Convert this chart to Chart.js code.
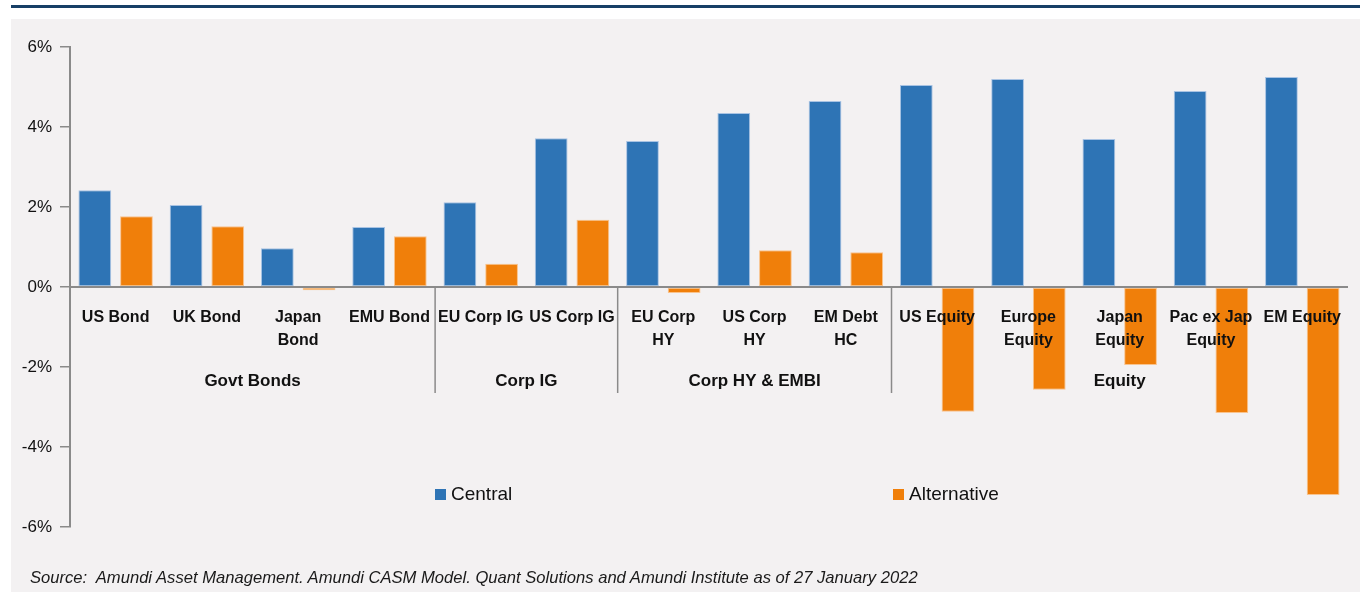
<!DOCTYPE html>
<html>
<head>
<meta charset="utf-8">
<script src="https://cdn.jsdelivr.net/npm/chart.js@4"></script>
<style>
	body { margin: 0; background: #ffffff; width: 1360px; height: 592px; overflow: hidden; position: relative; }
	#topline { position: absolute; left: 11px; top: 5px; width: 1349px; height: 3px; background: #173f66; }
	#panel { position: absolute; left: 11px; top: 19px; width: 1349px; height: 573px; background: #f3f1f2; }
	#wrap { position: absolute; left: 0; top: 0; width: 1360px; height: 592px; }
	#source { position: absolute; left: 30px; top: 568px; font: italic 16.6px "Liberation Sans Narrow", "Arial Narrow", "Liberation Sans", sans-serif; color: #1a1a1a; white-space: pre; }
</style>
</head>
<body>
<div id="topline"></div>
<div id="panel"></div>
<div id="wrap"><canvas id="returnsplot" width="1360" height="592"></canvas></div>
<div id="source">Source:  Amundi Asset Management. Amundi CASM Model. Quant Solutions and Amundi Institute as of 27 January 2022</div>
<script>
const categories = [
	"US Bond", "UK Bond", ["Japan", "Bond"], "EMU Bond",
	"EU Corp IG", "US Corp IG",
	["EU Corp", "HY"], ["US Corp", "HY"], ["EM Debt", "HC"],
	"US Equity", ["Europe", "Equity"], ["Japan", "Equity"], ["Pac ex Jap", "Equity"], "EM Equity"
];
const centralValues = [2.42, 2.05, 0.97, 1.5, 2.12, 3.72, 3.65, 4.35, 4.65, 5.05, 5.2, 3.7, 4.9, 5.25];
const alternativeValues = [1.77, 1.52, -0.08, 1.27, 0.58, 1.68, -0.15, 0.92, 0.87, -3.12, -2.57, -1.95, -3.15, -5.2];
// Groups of categories shown under the axis labels: [label, first index, last index]
const groups = [["Govt Bonds", 0, 3], ["Corp IG", 4, 5], ["Corp HY & EMBI", 6, 8], ["Equity", 9, 13]];
const yTicks = [-6, -4, -2, 0, 2, 4, 6];
const seriesLabels = ["Central", "Alternative"];

const blueColor = '#2e74b5';
const orangeColor = '#f07f0a';
const textColor = '#111111';
const axisColor = '#8a8a8a';
const narrowFont = '"Liberation Sans Narrow", "Arial Narrow", "Liberation Sans", sans-serif';

Chart.defaults.font.family = narrowFont;

// Group labels and separators under the category axis
const groupPlugin = {
	id: 'groupPlugin',
	afterDraw(chart) {
		const ctx = chart.ctx;
		const x = chart.scales.x, y = chart.scales.y;
		const zeroY = y.getPixelForValue(0);
		ctx.save();
		ctx.strokeStyle = axisColor;
		ctx.lineWidth = 1.5;
		ctx.fillStyle = textColor;
		ctx.font = 'bold 17px ' + narrowFont;
		ctx.textAlign = 'center';
		ctx.textBaseline = 'middle';
		groups.forEach(function (g, i) {
			let cx = (x.getPixelForValue(g[1]) + x.getPixelForValue(g[2])) / 2;
			ctx.fillText(g[0], cx, zeroY + 94);
			if (i > 0) {
				let sx = (x.getPixelForValue(g[1] - 1) + x.getPixelForValue(g[1])) / 2;
				ctx.beginPath();
				ctx.moveTo(sx, zeroY);
				ctx.lineTo(sx, zeroY + 106);
				ctx.stroke();
			}
		});
		ctx.restore();
	}
};

// Legend drawn inside the plot area
const legendPlugin = {
	id: 'legendPlugin',
	afterDraw(chart) {
		const ctx = chart.ctx;
		const positions = [435, 893];
		const ly = chart.scales.y.getPixelForValue(-5.2);
		ctx.save();
		ctx.font = '19px ' + narrowFont;
		ctx.textBaseline = 'middle';
		ctx.textAlign = 'left';
		chart.data.datasets.forEach(function (ds, i) {
			ctx.fillStyle = ds.backgroundColor;
			ctx.fillRect(positions[i], ly - 6, 11, 11);
			ctx.fillStyle = textColor;
			ctx.fillText(ds.label, positions[i] + 16, ly);
		});
		ctx.restore();
	}
};

var returnsplot = new Chart("returnsplot", {
	type: "bar",
	data: {
		labels: categories,
		datasets: [{
			label: seriesLabels[0],
			data: centralValues,
			backgroundColor: blueColor,
			borderColor: 'rgba(160,190,225,0.9)',
			borderWidth: 1,
			borderSkipped: false,
			categoryPercentage: 0.913,
			barPercentage: 0.786
		}, {
			label: seriesLabels[1],
			data: alternativeValues,
			backgroundColor: orangeColor,
			borderColor: 'rgba(250,190,130,0.9)',
			borderWidth: 1,
			borderSkipped: false,
			categoryPercentage: 0.913,
			barPercentage: 0.786
		}]
	},
	options: {
		responsive: false,
		animation: false,
		layout: {
			padding: { left: 0, right: 2, top: 47, bottom: 65 }
		},
		plugins: {
			legend: { display: false },
			tooltip: { enabled: false }
		},
		scales: {
			x: {
				position: { y: 0 },
				grid: { display: false, drawTicks: false },
				border: { color: axisColor, width: 2, z: 1 },
				ticks: {
					z: 1,
					color: textColor,
					font: { size: 16, weight: 'bold', lineHeight: 1.45 },
					padding: 19,
					maxRotation: 0,
					autoSkip: false
				}
			},
			y: {
				min: -6,
				max: 6,
				afterFit: function (scale) { scale.width = 70; },
				afterBuildTicks: function (scale) { scale.ticks = yTicks.map(v => ({ value: v })); },
				grid: { drawOnChartArea: false, drawTicks: true, tickLength: 10, color: axisColor, lineWidth: 1.5 },
				border: { color: axisColor, width: 2 },
				ticks: {
					color: textColor,
					font: { size: 17 },
					padding: 8,
					callback: v => v + '%'
				}
			}
		}
	},
	plugins: [groupPlugin, legendPlugin]
});
</script>
</body>
</html>
